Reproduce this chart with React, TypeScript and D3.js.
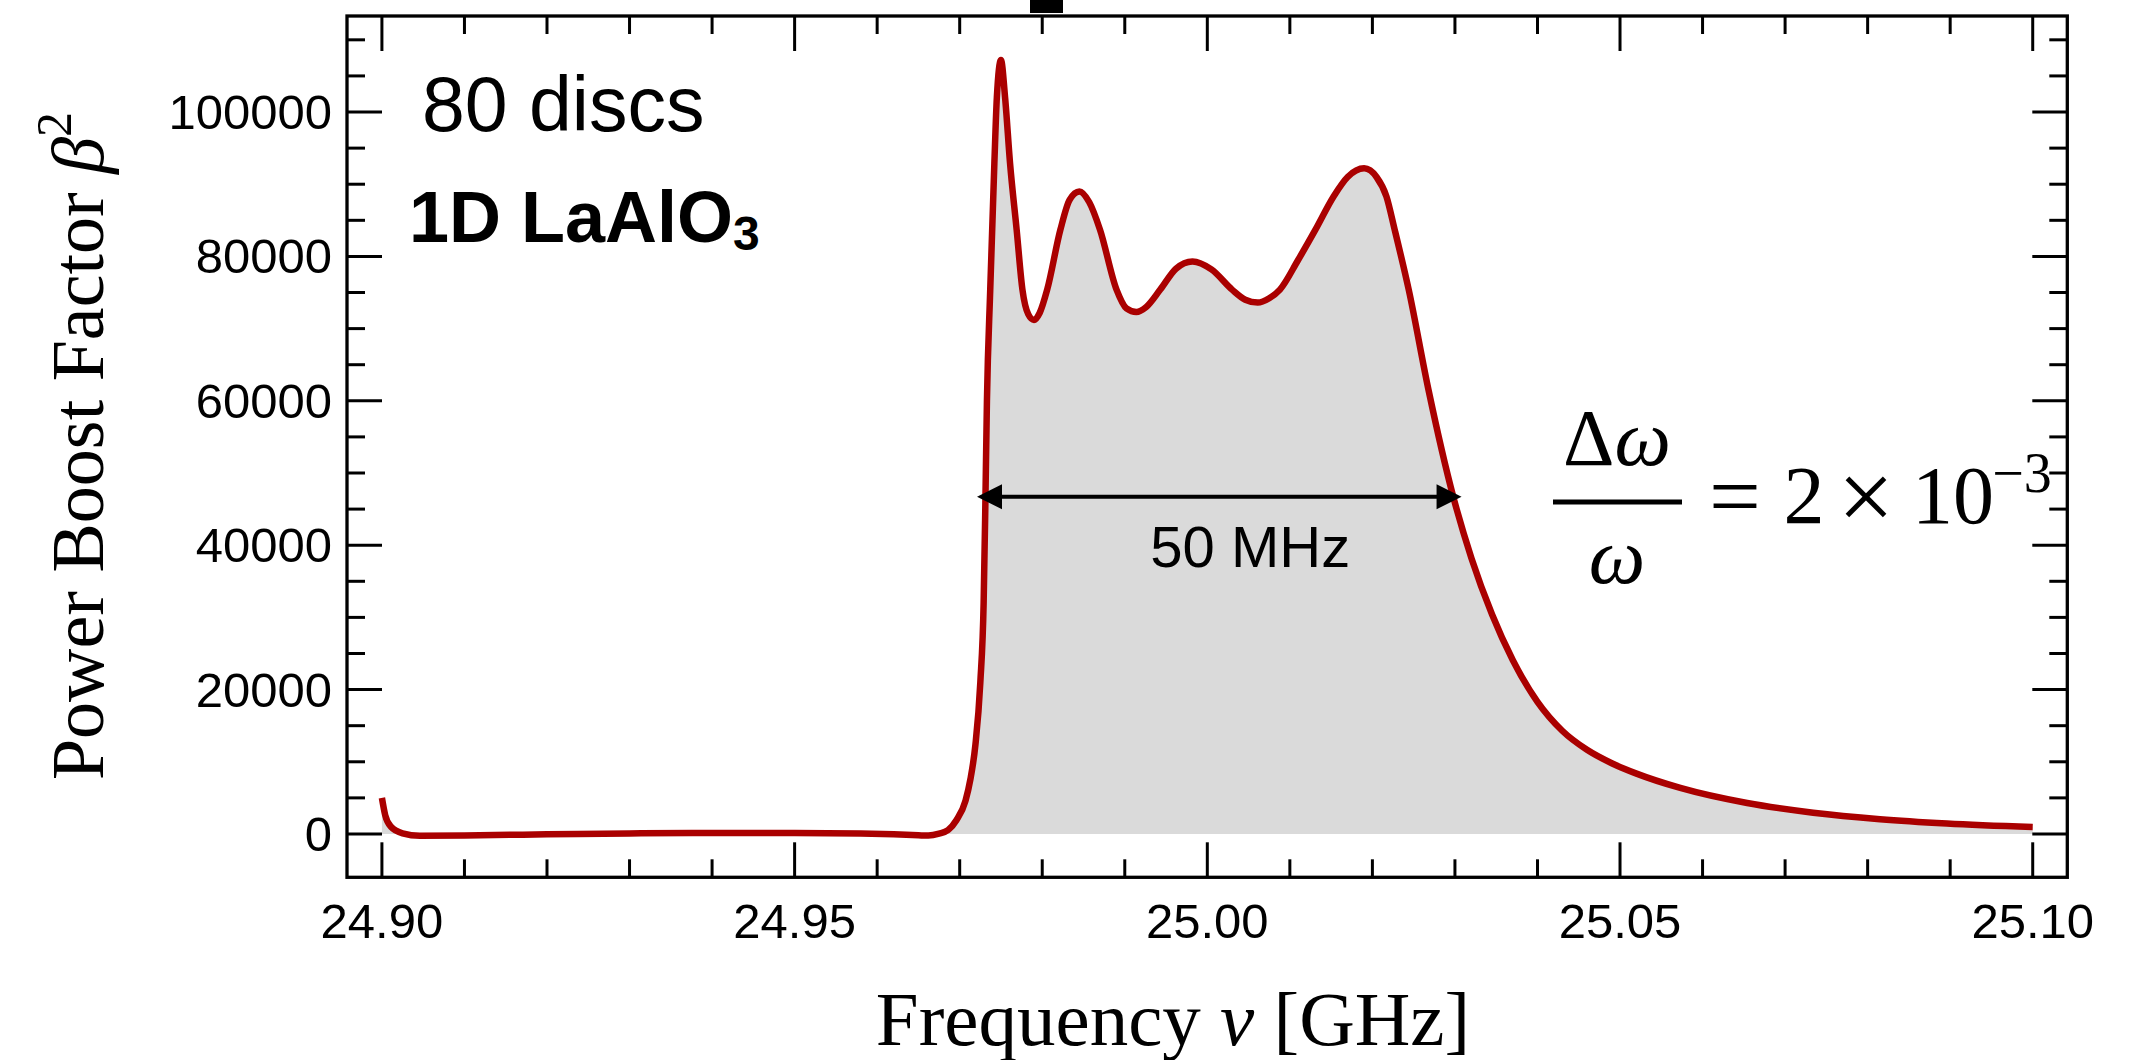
import * as d3 from 'd3'

// boost factor curve (frequency in GHz, beta^2)
const freqGHz = [
  24.9, 24.9004, 24.9011, 24.9025, 24.9046, 24.91, 24.92, 24.93, 24.94, 24.95,
  24.958, 24.962, 24.965, 24.9662, 24.9675, 24.9686, 24.9696, 24.9707, 24.9713, 24.9719,
  24.9725, 24.9729, 24.9731, 24.9733, 24.9737, 24.9742, 24.9745, 24.975, 24.9755, 24.9761,
  24.9769, 24.9776, 24.9783, 24.979, 24.9797, 24.9806, 24.9822, 24.9833, 24.9845, 24.9857,
  24.987, 24.989, 24.9902, 24.9914, 24.9926, 24.9943, 24.9962, 24.9982, 25.0005, 25.003,
  25.0046, 25.0061, 25.0075, 25.0088, 25.011, 25.0131, 25.0153, 25.017, 25.019, 25.0205,
  25.0217, 25.0227, 25.0244, 25.0268, 25.0298, 25.032, 25.0345, 25.037, 25.04, 25.043,
  25.046, 25.049, 25.052, 25.0573, 25.0654, 25.0734, 25.0815, 25.0896, 25.1,
]
const boost = [
  5000, 2600, 1000, 100, -230, -200, -50, 80, 150, 120,
  50, -50, -180, -220, 50, 550, 1900, 4600, 7600, 12300,
  21000, 32000, 45000, 60000, 75400, 92900, 102000, 107200, 102000, 92900,
  83700, 75400, 72000, 71200, 72200, 75400, 83700, 87800, 89000, 87500,
  83700, 75400, 72800, 72300, 73000, 75400, 78300, 79300, 78200, 75400,
  74000, 73600, 74200, 75400, 79500, 83700, 88300, 91000, 92200, 91000,
  88300, 83700, 75400, 61500, 46700, 38200, 30400, 24100, 18300, 14300,
  11660, 9800, 8360, 6380, 4290, 2950, 2050, 1450, 950,
]

const xMajorTicks = [24.9, 24.95, 25.0, 25.05, 25.1]
const xTickLabels = ['24.90', '24.95', '25.00', '25.05', '25.10']
const yMajorTicks = [0, 20000, 40000, 60000, 80000, 100000]
const yTickLabels = ['0', '20000', '40000', '60000', '80000', '100000']

// bandwidth marker
const bandStart = 24.9721
const bandEnd = 25.0308
const bandLevel = 46700
const bandLabelAt = 25.0052

const W = 2136
const H = 1060
const left = 347
const right = 2067.3
const top = 16
const bottom = 877.3

const App = () => {
  const x = d3.scaleLinear().domain([24.89577, 25.10419]).range([left, right])
  const y = d3.scaleLinear().domain([-6000, 113300]).range([bottom, top])

  const pts: [number, number][] = freqGHz.map((f, i) => [f, boost[i]])

  const line = d3.line<[number, number]>()
    .x(d => x(d[0]))
    .y(d => y(d[1]))
    .curve(d3.curveMonotoneX)

  const area = d3.area<[number, number]>()
    .x(d => x(d[0]))
    .y0(y(0))
    .y1(d => y(d[1]))
    .curve(d3.curveMonotoneX)

  const isMajorX = (t: number) => xMajorTicks.some(m => Math.abs(m - t) < 1e-6)
  const isMajorY = (t: number) => yMajorTicks.includes(t)
  const xMinor = x.ticks(20).filter(t => !isMajorX(t))
  const yMinor = y.ticks(24).filter(t => t >= 0 && !isMajorY(t))

  const major = 35
  const minor = 18
  const tickW = 3

  const ax1 = x(bandStart)
  const ax2 = x(bandEnd)
  const ay = y(bandLevel)
  const headL = 25
  const headH = 12.5

  return (
    <svg width={W} height={H} style={{ position: 'absolute', left: 0, top: 0, background: '#fff' }}>
      <rect x={0} y={0} width={W} height={H} fill="#fff" />

      {/* clipped bit of something above the frame */}
      <rect x={1030} y={0} width={33} height={13} fill="#000" />

      <path d={area(pts) ?? ''} fill="#dadada" />
      <path d={line(pts) ?? ''} fill="none" stroke="#aa0000" strokeWidth={6.5} strokeLinejoin="round" />

      {/* ticks: bottom + top, left + right */}
      <g stroke="#000" strokeWidth={tickW}>
        {xMajorTicks.map(t => (
          <g key={'xm' + t}>
            <line x1={x(t)} x2={x(t)} y1={bottom} y2={bottom - major} />
            <line x1={x(t)} x2={x(t)} y1={top} y2={top + major} />
          </g>
        ))}
        {xMinor.map(t => (
          <g key={'xn' + t}>
            <line x1={x(t)} x2={x(t)} y1={bottom} y2={bottom - minor} />
            <line x1={x(t)} x2={x(t)} y1={top} y2={top + minor} />
          </g>
        ))}
        {yMajorTicks.map(t => (
          <g key={'ym' + t}>
            <line x1={left} x2={left + major} y1={y(t)} y2={y(t)} />
            <line x1={right} x2={right - major} y1={y(t)} y2={y(t)} />
          </g>
        ))}
        {yMinor.map(t => (
          <g key={'yn' + t}>
            <line x1={left} x2={left + minor} y1={y(t)} y2={y(t)} />
            <line x1={right} x2={right - minor} y1={y(t)} y2={y(t)} />
          </g>
        ))}
      </g>

      <rect x={left} y={top} width={right - left} height={bottom - top} fill="none" stroke="#000" strokeWidth={3.3} />

      <g fontFamily="'Liberation Sans', Arial, sans-serif" fontSize={49} fill="#000">
        {xMajorTicks.map((t, i) => (
          <text key={'xl' + t} x={x(t)} y={938} textAnchor="middle">{xTickLabels[i]}</text>
        ))}
        {yMajorTicks.map((t, i) => (
          <text key={'yl' + t} x={332} y={y(t) + 17} textAnchor="end">{yTickLabels[i]}</text>
        ))}
      </g>

      {/* axis titles */}
      <text x={1173} y={1045} textAnchor="middle" fontFamily="'Liberation Serif', 'Times New Roman', serif" fontSize={77}>
        Frequency <tspan fontStyle="italic">ν</tspan> [GHz]
      </text>
      <text
        transform="translate(103,446) rotate(-90)"
        textAnchor="middle"
        fontFamily="'Liberation Serif', 'Times New Roman', serif"
        fontSize={74}
      >
        Power Boost Factor <tspan fontStyle="italic">β</tspan>
        <tspan fontSize={50} dy={-32}>2</tspan>
      </text>

      {/* labels */}
      <text x={422} y={131} fontFamily="'Liberation Sans', Arial, sans-serif" fontSize={77}>80 discs</text>
      <text x={409} y={242} fontFamily="'Liberation Sans', Arial, sans-serif" fontSize={72} fontWeight="bold">
        1D LaAlO<tspan fontSize={48} dy={8}>3</tspan>
      </text>

      {/* bandwidth arrow */}
      <line x1={ax1 + headL - 2} x2={ax2 - headL + 2} y1={ay} y2={ay} stroke="#000" strokeWidth={4} />
      <path d={`M${ax1},${ay} L${ax1 + headL},${ay - headH} L${ax1 + headL},${ay + headH} Z`} fill="#000" />
      <path d={`M${ax2},${ay} L${ax2 - headL},${ay - headH} L${ax2 - headL},${ay + headH} Z`} fill="#000" />
      <text
        x={x(bandLabelAt)}
        y={y(37000)}
        textAnchor="middle"
        fontFamily="'Liberation Sans', Arial, sans-serif"
        fontSize={58}
      >
        50 MHz
      </text>

      {/* relative bandwidth */}
      <g fontFamily="'Liberation Serif', 'Times New Roman', serif" fill="#000">
        <text x={1617} y={465} textAnchor="middle" fontSize={80}>
          Δ<tspan fontStyle="italic">ω</tspan>
        </text>
        <line x1={1553} x2={1682} y1={502} y2={502} stroke="#000" strokeWidth={5} />
        <text x={1617} y={583} textAnchor="middle" fontSize={80} fontStyle="italic">ω</text>
        <text x={1735} y={527} textAnchor="middle" fontSize={92}>=</text>
        <text x={1804} y={523} textAnchor="middle" fontSize={82}>2</text>
        <text x={1866} y={530} textAnchor="middle" fontSize={100}>×</text>
        <text x={1953} y={523} textAnchor="middle" fontSize={82}>10</text>
        <text x={2022} y={492} textAnchor="middle" fontSize={56}>−3</text>
      </g>
    </svg>
  )
}

export default App
